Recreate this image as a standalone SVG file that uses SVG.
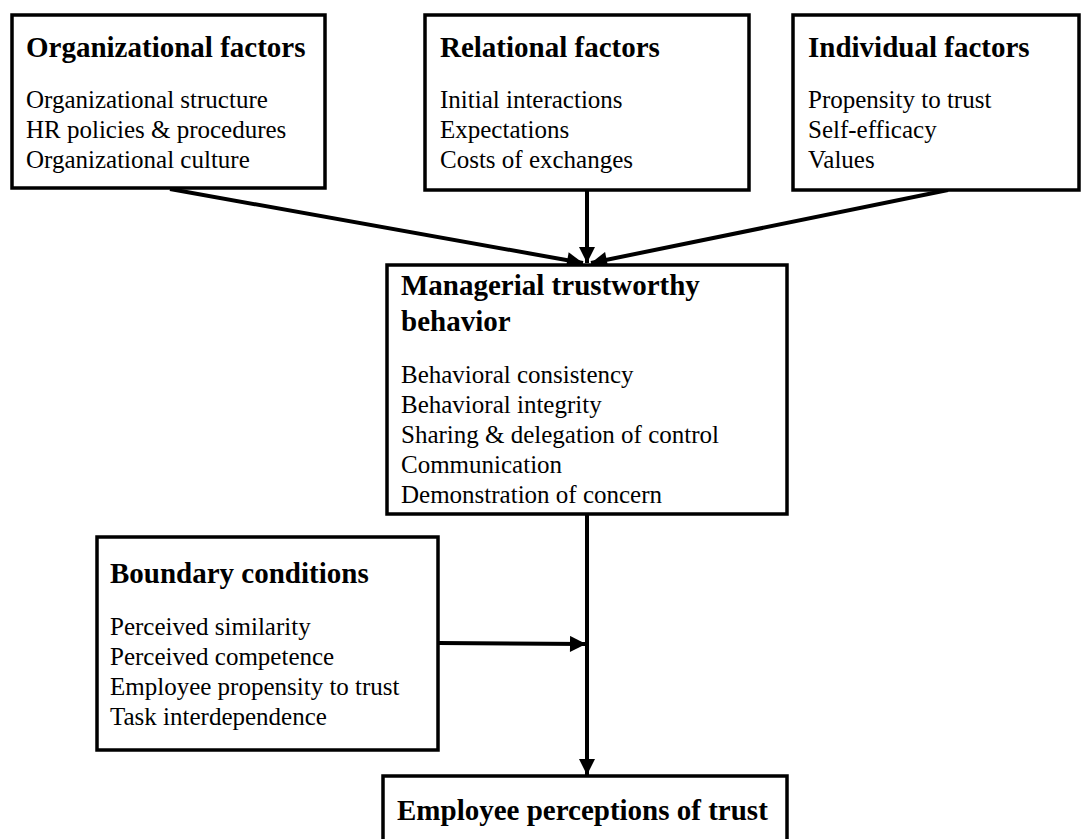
<svg xmlns="http://www.w3.org/2000/svg" width="1086" height="839" viewBox="0 0 1086 839">
<style>
.box{fill:#fff;stroke:#000;stroke-width:3.5}
.t{font-family:"Liberation Serif","Times New Roman",serif;font-weight:bold;font-size:29px;fill:#000}
.b{font-family:"Liberation Serif","Times New Roman",serif;font-size:25px;fill:#000}
.c{stroke:#000;stroke-width:4;fill:none}
</style>
<defs>
<marker id="ah" viewBox="0 0 10 10" refX="10" refY="5" markerWidth="17" markerHeight="16" markerUnits="userSpaceOnUse" orient="auto">
<path d="M0,0 L10,5 L0,10 Z" fill="#000"/>
</marker>
</defs>
<rect width="1086" height="839" fill="#fff"/>
<g id="connectors">
<line class="c" x1="170" y1="189" x2="583" y2="263" marker-end="url(#ah)"/>
<line class="c" x1="587" y1="190" x2="587" y2="263" marker-end="url(#ah)"/>
<line class="c" x1="948" y1="190" x2="591" y2="263" marker-end="url(#ah)"/>
<line class="c" x1="587" y1="514" x2="587" y2="775" marker-end="url(#ah)"/>
<line class="c" x1="438" y1="643" x2="586" y2="644" marker-end="url(#ah)"/>
</g>
<g id="org">
<rect class="box" x="12" y="15" width="313" height="173"/>
<text class="t" x="26" y="57">Organizational factors</text>
<text class="b" x="26" y="108">Organizational structure</text>
<text class="b" x="26" y="138">HR policies &amp; procedures</text>
<text class="b" x="26" y="168">Organizational culture</text>
</g>
<g id="relational">
<rect class="box" x="425" y="15" width="324" height="175"/>
<text class="t" x="440" y="57">Relational factors</text>
<text class="b" x="440" y="108">Initial interactions</text>
<text class="b" x="440" y="138">Expectations</text>
<text class="b" x="440" y="168">Costs of exchanges</text>
</g>
<g id="individual">
<rect class="box" x="793" y="15" width="286" height="175"/>
<text class="t" x="808" y="57">Individual factors</text>
<text class="b" x="808" y="108">Propensity to trust</text>
<text class="b" x="808" y="138">Self-efficacy</text>
<text class="b" x="808" y="168">Values</text>
</g>
<g id="managerial">
<rect class="box" x="387" y="265" width="400" height="249"/>
<text class="t" x="401" y="295">Managerial trustworthy</text>
<text class="t" x="401" y="331">behavior</text>
<text class="b" x="401" y="383">Behavioral consistency</text>
<text class="b" x="401" y="413">Behavioral integrity</text>
<text class="b" x="401" y="443">Sharing &amp; delegation of control</text>
<text class="b" x="401" y="473">Communication</text>
<text class="b" x="401" y="503">Demonstration of concern</text>
</g>
<g id="boundary">
<rect class="box" x="97" y="537" width="341" height="213"/>
<text class="t" x="110" y="583">Boundary conditions</text>
<text class="b" x="110" y="635">Perceived similarity</text>
<text class="b" x="110" y="665">Perceived competence</text>
<text class="b" x="110" y="695">Employee propensity to trust</text>
<text class="b" x="110" y="725">Task interdependence</text>
</g>
<g id="employee">
<rect class="box" x="383" y="776" width="404" height="90"/>
<text class="t" x="397" y="820">Employee perceptions of trust</text>
</g>
</svg>
